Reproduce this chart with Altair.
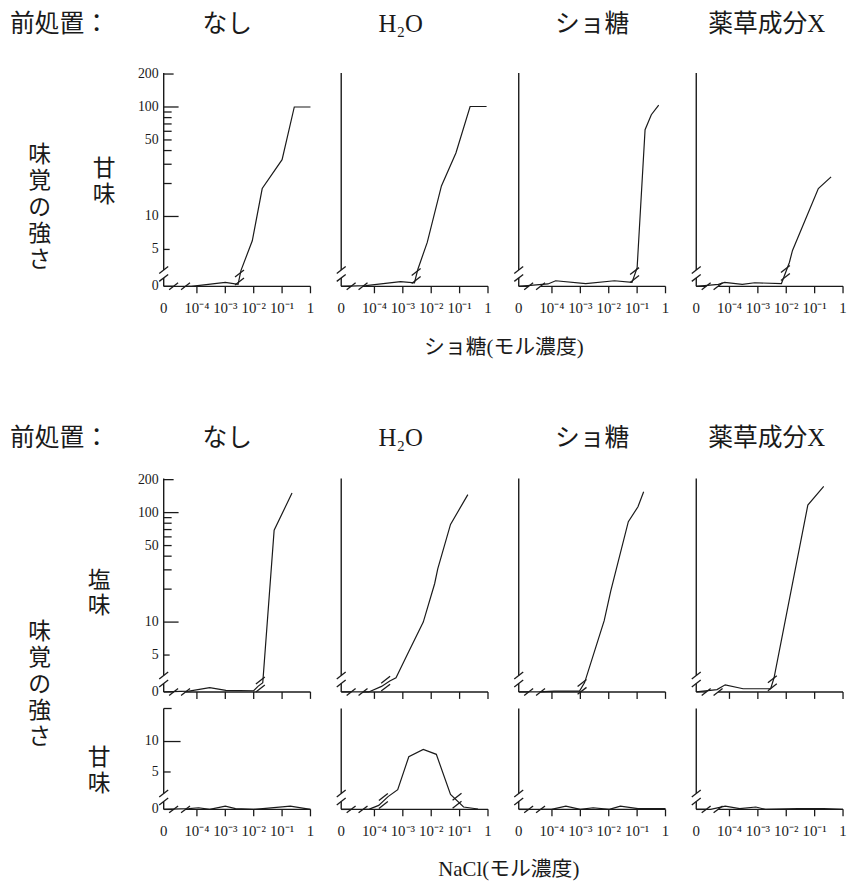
import math
import altair as alt
import pandas as pd

# ===================== data =====================
PRETREAT = ["なし", "H₂O", "ショ糖", "薬草成分X"]
PRE_LABEL = "前処置："
SUC_TITLE = "ショ糖(モル濃度)"
NACL_TITLE = "NaCl(モル濃度)"
Y_TITLE = "味覚の強さ"
SWEET = "甘味"
SALTY = "塩味"

X_TICK_EXP = [None, -4, -3, -2, -1, 0]          # None = concentration 0
X_TICK_TEXT = ["0", "10⁻⁴", "10⁻³", "10⁻²", "10⁻¹", "1"]
Y_LOG_LABELS = [0, 5, 10, 50, 100, 200]
Y_LOG_MINOR = [20, 30, 40, 60, 70, 80, 90]
Y_LIN_LABELS = [0, 5, 10]

# log10 of molar concentration (None = 0 M) and taste intensity
# top block: sucrose -> sweetness
SUC_C_NONE = [None, -4.2, -3.0, -2.55, -2.45, -2.05, -1.7, -1.0, -0.57, 0.0]
SUC_SWEET_NONE = [0, 0.0, 0.5, 0.25, 3.2, 6, 18, 33, 100, 100]
SUC_C_H2O = [None, -4.3, -3.08, -2.59, -2.47, -2.14, -1.64, -1.13, -0.63, -0.05]
SUC_SWEET_H2O = [0, 0.1, 0.6, 0.45, 3.3, 5.8, 19, 38, 101, 101]
SUC_C_SUC = [None, -4.14, -3.87, -2.81, -1.8, -1.18, -1.0, -0.72, -0.5, -0.24]
SUC_SWEET_SUC = [0, 0.3, 0.7, 0.35, 0.7, 0.5, 3.4, 62, 85, 104]
SUC_C_HERB = [None, -4.39, -4.17, -3.55, -3.11, -2.17, -1.89, -1.78, -0.87, -0.42]
SUC_SWEET_HERB = [0, 0.25, 0.5, 0.25, 0.45, 0.35, 3.8, 4.9, 18, 23]

# bottom block: NaCl -> saltiness
NACL_SALT_C_NONE = [None, -4.28, -3.55, -2.98, -2.0, -1.85, -1.68, -1.28, -0.65]
NACL_SALTY_NONE = [0, 0.1, 0.55, 0.2, 0.15, 0.7, 2.8, 69, 151]
NACL_SALT_C_H2O = [None, -4.2, -3.75, -3.46, -3.24, -2.79, -2.28, -1.88, -1.77, -1.32, -0.71]
NACL_SALTY_H2O = [0, 0, 0.7, 2.9, 3.1, 5.4, 10, 22.4, 30.6, 78, 146]
NACL_SALT_C_SUC = [None, -4.47, -3.91, -3.03, -2.85, -2.16, -1.93, -1.31, -0.97, -0.77]
NACL_SALTY_SUC = [0, 0, 0.1, 0.1, 2.8, 10.3, 19.2, 82.6, 113, 155]
NACL_SALT_C_HERB = [None, -4.44, -4.15, -3.52, -2.55, -2.43, -1.24, -0.68]
NACL_SALTY_HERB = [0, 0.3, 0.9, 0.4, 0.4, 3.1, 117, 174]

# bottom block: NaCl -> sweetness
NACL_SWEET_C_NONE = [None, -4.28, -3.94, -3.55, -3.0, -2.64, -2.0, -1.68, -0.71, 0.0]
NACL_SWEET_NONE = [0, 0.1, 0.2, 0, 0.4, 0.1, 0, 0.1, 0.4, 0]
NACL_SWEET_C_H2O = [None, -4.2, -3.85, -3.52, -3.18, -2.79, -2.28, -1.82, -1.32, -0.86, -0.35]
NACL_SWEET_H2O = [0, 0, 0.5, 0.95, 2.1, 7.5, 8.7, 7.9, 1.3, 0.3, 0.05]
NACL_SWEET_C_SUC = [None, -4.47, -4.02, -3.51, -3.0, -2.55, -1.98, -1.59, -0.97, 0.0]
NACL_SWEET_SUC = [0, 0, 0, 0.4, 0, 0.2, 0, 0.4, 0.1, 0.1]
NACL_SWEET_C_HERB = [None, -4.66, -4.15, -3.64, -3.07, -2.73, -1.59, -0.68, 0.0]
NACL_SWEET_HERB = [0, 0, 0.4, 0.1, 0.3, 0, 0.1, 0.1, 0]

COLUMNS = [
    [("top", SUC_C_NONE, SUC_SWEET_NONE), ("salt", NACL_SALT_C_NONE, NACL_SALTY_NONE),
     ("sweet", NACL_SWEET_C_NONE, NACL_SWEET_NONE)],
    [("top", SUC_C_H2O, SUC_SWEET_H2O), ("salt", NACL_SALT_C_H2O, NACL_SALTY_H2O),
     ("sweet", NACL_SWEET_C_H2O, NACL_SWEET_H2O)],
    [("top", SUC_C_SUC, SUC_SWEET_SUC), ("salt", NACL_SALT_C_SUC, NACL_SALTY_SUC),
     ("sweet", NACL_SWEET_C_SUC, NACL_SWEET_SUC)],
    [("top", SUC_C_HERB, SUC_SWEET_HERB), ("salt", NACL_SALT_C_HERB, NACL_SALTY_HERB),
     ("sweet", NACL_SWEET_C_HERB, NACL_SWEET_HERB)],
]

# ===================== layout / style =====================
INK = "#1a1a1a"
NUM_FONT = "Liberation Serif"
JP_FONT = "Liberation Serif, Noto Sans CJK JP"

PANEL_W = 148
X_GAP = 1.17            # axis distance between "0" and 10^-4, in decades
X_MAX = 5.17
PX_PER_DEC = PANEL_W / X_MAX
COL_H = 742.4
DEC_PX = 110.4          # pixels per decade on the log panels
LOG_FLOOR = 0.362       # log10 value sitting at the baseline of the log panels
ZERO_PX = 8.0           # pixels per unit below the axis break
LIN_PX = 6.14           # pixels per unit on the linear (sweet) panels
LIN_SHIFT = 1.14
REGIONS = {             # baseline, top, break height (pixel units of the column)
    "top": (527.4, 742.4, 12.5),
    "salt": (118.4, 333.7, 12.5),
    "sweet": (0.0, 101.7, 12.0),
}
HEAD_X = [64, 60, 74, 71]


def xpos(e):
    return 0.0 if e is None else e + 4 + X_GAP


def is_low(v, region):
    return v < (0.8 if region == "sweet" else 1.5)


def ypos(v, region):
    base = REGIONS[region][0]
    if is_low(v, region):
        return base + v * ZERO_PX
    if region == "sweet":
        return base + (v + LIN_SHIFT) * LIN_PX
    return base + (math.log10(v) - LOG_FLOOR) * DEC_PX


XS = alt.Scale(domain=[0, X_MAX], nice=False, zero=False)
YS = alt.Scale(domain=[0, COL_H], nice=False, zero=False)


def ex(f="x"):
    return alt.X(f"{f}:Q", scale=XS, axis=None)


def ey(f="y"):
    return alt.Y(f"{f}:Q", scale=YS, axis=None)


def text_layer(txt, x, y, size, align="center", font=JP_FONT, lh=None):
    props = dict(font=font, fontSize=size, color=INK, align=align, baseline="middle")
    if lh is not None:
        props.update(lineBreak="\n", lineHeight=lh)
    return alt.Chart(pd.DataFrame({"t": [txt]})).mark_text(**props).encode(
        x=alt.value(x), y=alt.value(y), text="t:N")


XB = 16 / PX_PER_DEC
XG = 6 / PX_PER_DEC


def column(ci):
    curves = COLUMNS[ci]
    rows, slash = [], []
    for region, cs, vs in curves:
        pts = [(xpos(c), ypos(v, region), is_low(v, region)) for c, v in zip(cs, vs)]
        for i, (x, y, _) in enumerate(pts):
            rows.append({"g": region, "i": i, "x": x, "y": y})
        for (x0, y0, z0), (x1, y1, z1) in zip(pts, pts[1:]):
            if z0 != z1:
                mx, my = (x0 + x1) / 2, (y0 + y1) / 2
                slash += [{"x": mx, "y": my - 4}, {"x": mx, "y": my + 4}]
    seg, xt, xl, yt, yl = [], [], [], [], []
    for region, (b, t, brk) in REGIONS.items():
        seg += [dict(x=0, x2=0, y=b, y2=b + brk - 4), dict(x=0, x2=0, y=b + brk + 4, y2=t),
                dict(x=0, x2=XB - XG, y=b, y2=b), dict(x=XB + XG, x2=X_MAX, y=b, y2=b)]
        slash += [dict(x=0, y=b + brk - 4), dict(x=0, y=b + brk + 4),
                  dict(x=XB - XG, y=b), dict(x=XB + XG, y=b)]
        for e in X_TICK_EXP[1:]:
            xt.append(dict(x=xpos(e), y=b))
        if region in ("top", "sweet"):
            for e, s in zip(X_TICK_EXP, X_TICK_TEXT):
                xl.append(dict(x=xpos(e), y=b - 22, t=s))
        if ci == 0:
            if region == "sweet":
                for v in Y_LIN_LABELS:
                    yl.append(dict(y=ypos(v, region), t=str(v)))
                yt += [dict(x=0, x2=7 / PX_PER_DEC, y=ypos(5, region)),
                       dict(x=0, x2=17 / PX_PER_DEC, y=ypos(10, region)),
                       dict(x=0, x2=8 / PX_PER_DEC, y=t)]
            else:
                for v in Y_LOG_LABELS:
                    yl.append(dict(y=ypos(v, region), t=str(v)))
                lens = {5: 6, 10: 15, 50: 8, 100: 15, 200: 10}
                for v in Y_LOG_LABELS[1:] + Y_LOG_MINOR:
                    yt.append(dict(x=0, x2=lens.get(v, 8) / PX_PER_DEC, y=ypos(v, region)))

    layers = [
        alt.Chart(pd.DataFrame(seg)).mark_rule(color=INK, strokeWidth=1.4).encode(
            x=ex(), x2=alt.X2("x2"), y=ey(), y2=alt.Y2("y2")),
        alt.Chart(pd.DataFrame(xt)).mark_rule(color=INK, strokeWidth=1.3, y2Offset=7).encode(
            x=ex(), y=ey(), y2=alt.Y2("y")),
        alt.Chart(pd.DataFrame(rows)).mark_line(color=INK, strokeWidth=1.2).encode(
            x=ex(), y=ey(), detail="g:N", order="i:Q"),
        alt.Chart(pd.DataFrame(slash)).mark_rule(
            color=INK, strokeWidth=1.3, xOffset=-4.5, x2Offset=4.5, yOffset=3.5, y2Offset=-3.5
        ).encode(x=ex(), x2=alt.X2("x"), y=ey(), y2=alt.Y2("y")),
        alt.Chart(pd.DataFrame(xl)).mark_text(
            font=NUM_FONT, fontSize=15, color=INK, baseline="middle").encode(
            x=ex(), y=ey(), text="t:N"),
        text_layer(PRETREAT[ci], HEAD_X[ci], -49.3, 25),
        text_layer(PRETREAT[ci], HEAD_X[ci], 367.7, 25),
    ]
    if ci == 0:
        layers += [
            alt.Chart(pd.DataFrame(yt)).mark_rule(color=INK, strokeWidth=1.3).encode(
                x=ex(), x2=alt.X2("x2"), y=ey()),
            alt.Chart(pd.DataFrame(yl)).mark_text(
                font=NUM_FONT, fontSize=14, color=INK, align="right", baseline="middle").encode(
                x=alt.value(-5), y=ey(), text="t:N"),
            text_layer(PRE_LABEL, -155, -49.3, 25, align="left"),
            text_layer(PRE_LABEL, -155, 367.7, 25, align="left"),
            text_layer("\n".join(Y_TITLE), -125, 82.7, 23, lh=26.5),
            text_layer("\n".join(SWEET), -60, 96.7, 23, lh=26),
            text_layer("\n".join(SALTY), -65, 511.7, 23, lh=26),
            text_layer("\n".join(Y_TITLE), -125, 563.7, 23, lh=26.5),
            text_layer("\n".join(SWEET), -65, 690.7, 23, lh=26),
            text_layer(SUC_TITLE, 343, 277.7, 21),
            text_layer(NACL_TITLE, 348, 803.7, 21),
        ]
    return alt.layer(*layers).properties(width=PANEL_W, height=COL_H)


chart = alt.hconcat(*[column(i) for i in range(4)], spacing=31, bounds="flush").properties(
    padding={"left": 2, "top": 0, "right": 0, "bottom": 0},
    background="white",
).configure_view(strokeWidth=0)

chart.save("out.html", embed_options={"renderer": "svg", "actions": False})
